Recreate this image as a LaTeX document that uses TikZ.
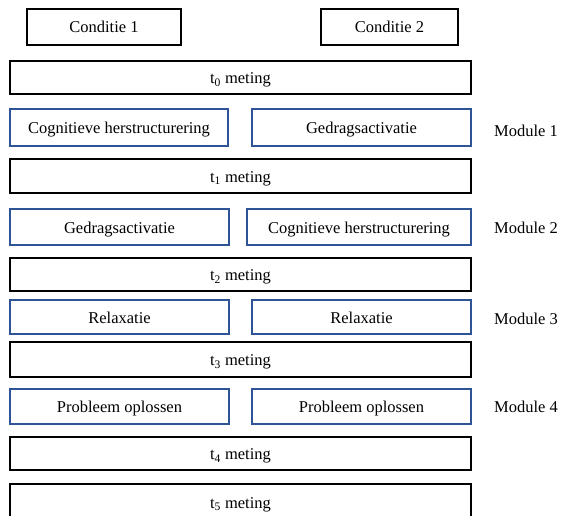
\documentclass[tikz,border=0pt]{standalone}
\usepackage{fontspec}
\setmainfont{Liberation Serif}
\definecolor{wblue}{RGB}{47,84,150}
\begin{document}
\begin{tikzpicture}[x=1pt,y=-1pt,
  txt/.style={font=\fontsize{16.5}{18}\selectfont,text height=15pt,text depth=3pt},
  box/.style={txt,draw=black,line width=1.5pt,inner sep=0pt},
  bbox/.style={txt,draw=wblue,line width=1.1pt,inner sep=0pt},
  lab/.style={txt,inner sep=0pt,anchor=west}]
\useasboundingbox (0,0) rectangle (562,516);
\node[box,minimum width=154,minimum height=36] (c1) at (104,27) {Conditie 1};
\node[box,minimum width=137,minimum height=36] (c2) at (389.5,27) {Conditie 2};
\node[box,minimum width=461,minimum height=33] (t0) at (240.5,77.5) {t\textsubscript{0} meting};
\node[bbox,minimum width=218,minimum height=37] (m1a) at (119,127.5) {Cognitieve herstructurering};
\node[bbox,minimum width=219,minimum height=37] (m1b) at (361.5,127.5) {Gedragsactivatie};
\node[lab] (l1) at (494,130) {Module 1};
\node[box,minimum width=461,minimum height=34] (t1) at (240.5,176) {t\textsubscript{1} meting};
\node[bbox,minimum width=219,minimum height=36] (m2a) at (119.5,227) {Gedragsactivatie};
\node[bbox,minimum width=224,minimum height=36] (m2b) at (359,227) {Cognitieve herstructurering};
\node[lab] (l2) at (494,227) {Module 2};
\node[box,minimum width=461,minimum height=33] (t2) at (240.5,274.5) {t\textsubscript{2} meting};
\node[bbox,minimum width=219,minimum height=34] (m3a) at (119.5,317) {Relaxatie};
\node[bbox,minimum width=219,minimum height=34] (m3b) at (361.5,317) {Relaxatie};
\node[lab] (l3) at (494,318) {Module 3};
\node[box,minimum width=461,minimum height=35] (t3) at (240.5,359.5) {t\textsubscript{3} meting};
\node[bbox,minimum width=219,minimum height=35] (m4a) at (119.5,406.5) {Probleem oplossen};
\node[bbox,minimum width=219,minimum height=35] (m4b) at (361.5,406.5) {Probleem oplossen};
\node[lab] (l4) at (494,406) {Module 4};
\node[box,minimum width=461,minimum height=33] (t4) at (240.5,453.5) {t\textsubscript{4} meting};
\node[box,minimum width=461,minimum height=36] (t5) at (240.5,502) {t\textsubscript{5} meting};
\end{tikzpicture}
\end{document}
